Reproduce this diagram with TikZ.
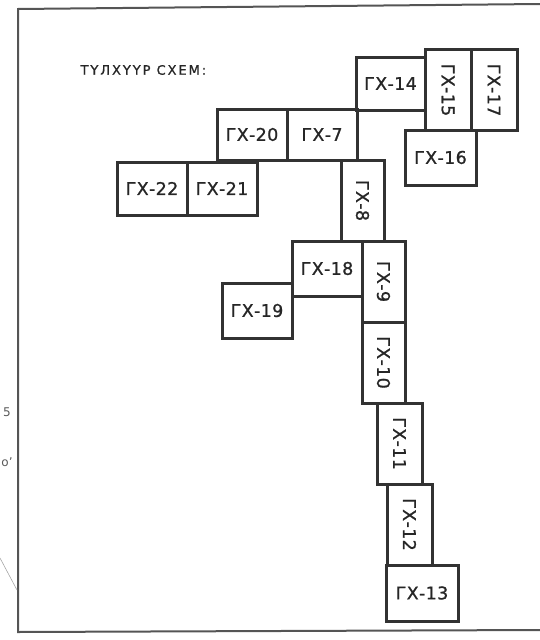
\documentclass[tikz,border=0pt]{standalone}
\usepackage{fontspec}
\setmainfont{DejaVu Sans}
\newfontfamily\cadfont[LetterSpace=2,FakeBold=1]{DejaVu Sans}
\newfontfamily\titlefont[LetterSpace=15,FakeBold=1]{DejaVu Sans}
\usetikzlibrary{positioning}
\definecolor{inkgray}{RGB}{50,50,50}
\definecolor{framegray}{RGB}{85,85,85}

\begin{document}
\begin{tikzpicture}[
      x=1pt, y=-1pt,
      box/.style={draw=inkgray, line width=3pt, outer sep=0pt, inner sep=0pt, text=black!85,
                  font=\cadfont\fontsize{17.5}{19}\selectfont},
      hbox/.style={box, minimum width=70pt, minimum height=53pt, anchor=north west},
      vbox/.style={box, rotate=-90, minimum width=81pt, minimum height=44pt},
      frame/.style={draw=framegray, line width=2pt},
      scrap/.style={draw=black!35, line width=0.6pt}
    ]
      \useasboundingbox (0,0) rectangle (540,640);

      % outer frame
      \draw[frame] (540,4) -- (18,9) -- (18,632) -- (540,630);
      \draw[scrap] (0,558) -- (17,590);
      \node[text=black!65, font=\fontsize{12}{13}\selectfont] (edgea) at (7,412) {5};
      \node[text=black!65, font=\fontsize{12}{13}\selectfont] (edgeb) at (7,462) {o'};

      \node[anchor=west, text=black!85, font=\titlefont\fontsize{13}{15}\selectfont] (title) at (77,70) {ТҮЛХҮҮР СХЕМ:};

      % upper group
      \node[hbox, minimum width=69pt] (gx14) at (356,57) {ГХ-14};
      \node[vbox, minimum height=46pt] (gx15) at (448,90) {ГХ-15};
      \node[vbox, minimum height=46pt] (gx17) at (494,90) {ГХ-17};
      \node[hbox, minimum width=71pt, minimum height=55pt] (gx16) at (405,130) {ГХ-16};

      \node[hbox, minimum height=51pt] (gx20) at (217,109) {ГХ-20};
      \node[hbox, minimum height=51pt, right=0pt of gx20] (gx7) {ГХ-7};
      \node[hbox] (gx22) at (117,162) {ГХ-22};
      \node[hbox, right=0pt of gx22] (gx21) {ГХ-21};

      % main run down
      \node[vbox, minimum height=43pt] (gx8) at (362.5,200.5) {ГХ-8};
      \node[hbox, minimum height=55pt] (gx18) at (292,241) {ГХ-18};
      \node[hbox, minimum height=55pt] (gx19) at (222,283) {ГХ-19};
      \node[vbox, minimum height=43pt] (gx9) at (383.5,281.5) {ГХ-9};
      \node[vbox, minimum height=43pt] (gx10) at (383.5,362.5) {ГХ-10};
      \node[vbox, minimum height=45pt] (gx11) at (399.5,443.5) {ГХ-11};
      \node[vbox, minimum height=45pt] (gx12) at (409.5,524.5) {ГХ-12};
      \node[hbox, minimum width=72pt, minimum height=56pt] (gx13) at (386,565) {ГХ-13};
    \end{tikzpicture}
\end{document}
